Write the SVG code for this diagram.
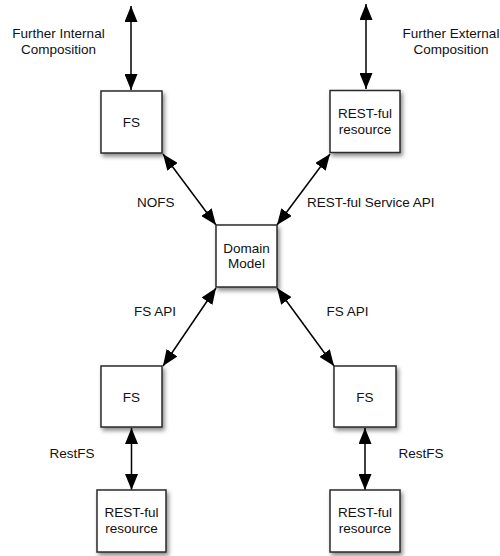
<svg xmlns="http://www.w3.org/2000/svg" width="500" height="556" viewBox="0 0 500 556">
<style>
.box{fill:#fff;stroke:#2a2a2a;stroke-width:1.5;filter:url(#sh)}
.t{font-family:"Liberation Sans",Arial,Helvetica,sans-serif;font-size:13.5px;fill:#111}
.c{text-anchor:middle}
.ln{stroke:#000;stroke-width:1.5;fill:none;marker-start:url(#ah);marker-end:url(#ah)}
</style>
<defs>
<filter id="sh" x="-20%" y="-20%" width="150%" height="150%">
<feDropShadow dx="2" dy="3" stdDeviation="2" flood-color="#000" flood-opacity="0.45"/>
</filter>
<marker id="ah" markerUnits="userSpaceOnUse" markerWidth="17" markerHeight="13" refX="16" refY="6.5" orient="auto-start-reverse">
<path d="M0,0 L16,6.5 L0,13 z" fill="#000"/>
</marker>
</defs>
<rect width="500" height="556" fill="#fff"/>
<g id="connectors">
<line class="ln" x1="131" y1="6" x2="131" y2="90"/>
<line class="ln" x1="366" y1="4" x2="366" y2="89"/>
<line class="ln" x1="163" y1="154" x2="216" y2="225"/>
<line class="ln" x1="330" y1="154" x2="277" y2="225"/>
<line class="ln" x1="216" y1="288" x2="163" y2="366"/>
<line class="ln" x1="277" y1="288" x2="334" y2="366"/>
<line class="ln" x1="131.5" y1="428" x2="131.5" y2="490"/>
<line class="ln" x1="365" y1="428" x2="365" y2="490"/>
<text class="t c" x="58.5" y="38">Further Internal</text>
<text class="t c" x="58.5" y="54">Composition</text>
<text class="t c" x="451" y="38">Further External</text>
<text class="t c" x="451" y="54">Composition</text>
<text class="t" x="137" y="207">NOFS</text>
<text class="t" x="307" y="207">REST-ful Service API</text>
<text class="t" x="134" y="316">FS API</text>
<text class="t" x="326.5" y="316">FS API</text>
<text class="t" x="49.5" y="458">RestFS</text>
<text class="t" x="398.5" y="458">RestFS</text>
</g>
<g id="fs-top">
<rect class="box" x="101" y="91" width="61" height="62"/>
<text class="t c" x="131.5" y="127">FS</text>
</g>
<g id="rest-top">
<rect class="box" x="330" y="90.5" width="70" height="62"/>
<text class="t c" x="365" y="117.5">REST-ful</text>
<text class="t c" x="365" y="133.5">resource</text>
</g>
<g id="domain">
<rect class="box" x="216" y="225" width="61" height="62"/>
<text class="t c" x="246.5" y="253">Domain</text>
<text class="t c" x="246.5" y="268">Model</text>
</g>
<g id="fs-left">
<rect class="box" x="101" y="366" width="61" height="61"/>
<text class="t c" x="131.5" y="401.5">FS</text>
</g>
<g id="fs-right">
<rect class="box" x="334" y="366" width="62" height="61"/>
<text class="t c" x="365" y="401.5">FS</text>
</g>
<g id="rest-left">
<rect class="box" x="97" y="490" width="69" height="62"/>
<text class="t c" x="131.5" y="516.5">REST-ful</text>
<text class="t c" x="131.5" y="532.5">resource</text>
</g>
<g id="rest-right">
<rect class="box" x="330" y="490" width="70" height="62"/>
<text class="t c" x="365" y="516.5">REST-ful</text>
<text class="t c" x="365" y="532.5">resource</text>
</g>
</svg>
